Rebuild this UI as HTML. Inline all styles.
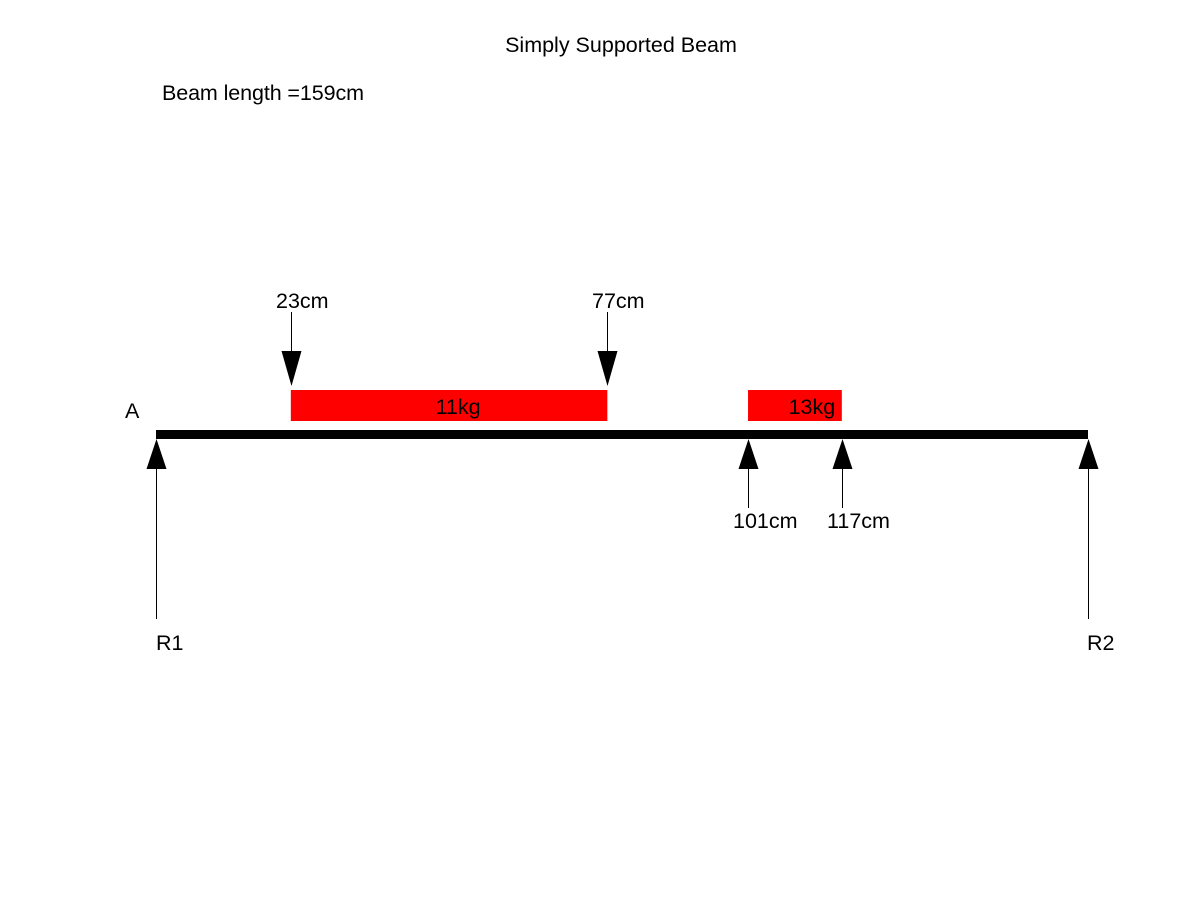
<!DOCTYPE html>
<html><head><meta charset="utf-8"><style>
body{margin:0;background:#fff}
svg{display:block;font-family:"Liberation Sans",Arial,sans-serif}
</style></head><body>
<svg id="c" width="1201" height="901">
<text x="621" y="52" font-size="21.5" text-anchor="middle">Simply Supported Beam</text>
<text x="162" y="100" font-size="21.5" textLength="202">Beam length =159cm</text>
<text x="125" y="418" font-size="21.5">A</text>
</svg>
<script>
const beamLength = 159;
const loadStarts = [23, 101];
const loadEnds = [77, 117];
const loadValues = [11, 13];
const loadLabelsAbove = [true, false];

const svg = document.getElementById('c');
const NS = 'http://www.w3.org/2000/svg';
const x0 = 156, x1 = 1088;
const labelShift = [9, 17];
function xs(cm){ return x0 + (x1 - x0) * cm / beamLength; }
function mk(tag, attrs){ const e = document.createElementNS(NS, tag); for (const k in attrs) e.setAttribute(k, attrs[k]); svg.appendChild(e); return e; }

const beam = mk('rect', {x: x0, y: 430, width: x1 - x0, height: 9, fill: '#000'});



function upArrow(x, bottom, name){
  const l = mk('line', {x1: x + 0.5, y1: 460, x2: x + 0.5, y2: bottom, stroke: '#000', 'stroke-width': 1});
  
  
  const t = mk('polygon', {points: `${x+0.5},439 ${x-9.5},469 ${x+10.5},469`, fill: '#000'});
  
  
}
function downArrow(x, name){
  const l = mk('line', {x1: x + 0.5, y1: 312, x2: x + 0.5, y2: 360, stroke: '#000', 'stroke-width': 1});
  
  
  const t = mk('polygon', {points: `${x-9.5},351 ${x+10.5},351 ${x+0.5},386`, fill: '#000'});
  
  
}
function txt(x, y, s, name, anchor){
  const t = mk('text', {x: x, y: y, 'font-size': 21.5, 'text-anchor': anchor || 'start'});
  t.textContent = s;
  
  
}

loadStarts.forEach((s, i) => {
  const a = xs(s), b = xs(loadEnds[i]);
  const r = mk('rect', {x: a, y: 390, width: b - a, height: 31, fill: '#ff0000'});
  
  
  txt((a + b) / 2 + labelShift[i], 414, loadValues[i] + 'kg', 'load-value-' + (i + 1), 'middle');
  [s, loadEnds[i]].forEach((cm, j) => {
    const x = Math.round(xs(cm));
    if (loadLabelsAbove[i]) {
      downArrow(x, 'load-arrow-' + (i + 1) + '-' + j);
      txt(x - 15, 308, cm + 'cm', 'position-label-' + cm);
    } else {
      upArrow(x, 508, 'load-arrow-' + (i + 1) + '-' + j);
      txt(x - 15, 528, cm + 'cm', 'position-label-' + cm);
    }
  });
});

upArrow(x0, 619, 'reaction-r1');
upArrow(x1, 619, 'reaction-r2');
txt(156, 650, 'R1', 'r1-label');
txt(1087, 650, 'R2', 'r2-label');
</script>
</body></html>
